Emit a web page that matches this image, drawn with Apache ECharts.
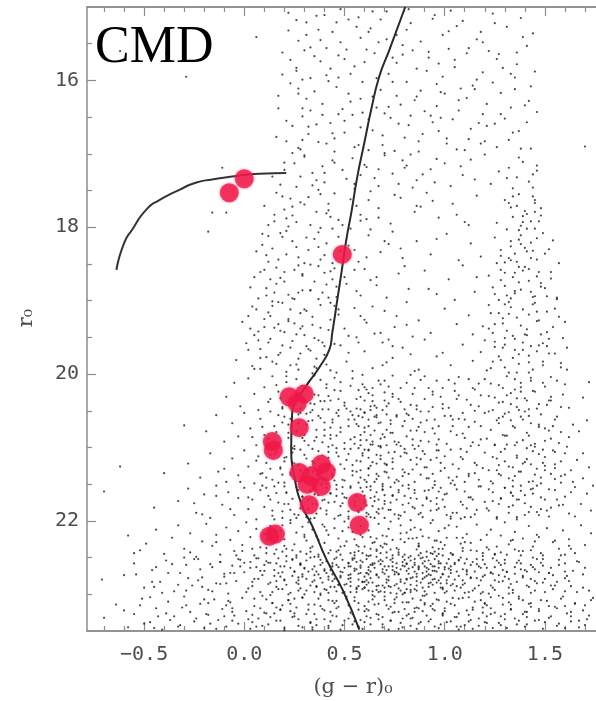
<!DOCTYPE html>
<html>
<head>
<meta charset="utf-8">
<script src="https://cdn.jsdelivr.net/npm/echarts@6/dist/echarts.min.js"></script>
<style>
  html, body { margin: 0; padding: 0; background: #fff; }
  #chart { width: 596px; height: 701px; }
</style>
</head>
<body>
<div id="chart"></div>
<script>
// Colour (g - r)_0 and magnitude r_0 of field stars, by magnitude range.
const fieldStarsBright = [
  [.22,15.08],[.31,15.21],[.36,15.12],[.44,15.34],[.52,15.17],[.58,15.42],[.63,15.29],[.71,15.06],[.76,15.38],[.83,15.22],[.88,15.47],[.95,15.11],[1.02,15.33],[1.09,15.19],[1.16,15.44],[1.24,15.09],[1.31,15.27],[1.38,15.15],[.27,15.46],[.48,15.03],[.67,15.48],[1.44,15.36],[.06,15.41],[-.62,15.60],
  [.19,15.62],[.26,15.87],[.33,15.55],[.38,15.74],[.41,15.93],[.47,15.66],[.55,15.81],[.61,15.58],[.66,15.97],[.74,15.69],[.79,15.52],[.86,15.84],[.92,15.61],[.99,15.95],[1.05,15.72],[1.12,15.56],[1.19,15.89],[1.27,15.64],[1.33,15.91],[1.41,15.53],[.29,15.99],[.51,15.58],[.97,15.77],[1.36,15.78],[.26,15.83],[-.39,15.63],[-.29,15.95],
  [.17,16.21],[.23,16.04],[.29,16.38],[.35,16.15],[.39,16.47],[.46,16.09],[.53,16.29],[.59,16.44],[.68,16.13],[.72,16.36],[.81,16.02],[.85,16.27],[.93,16.48],[1.0,16.18],[1.07,16.41],[1.14,16.07],[1.21,16.32],[1.28,16.46],[1.35,16.12],[1.42,16.28],[.31,16.25],[.49,16.39],[.76,16.21],[1.11,16.24],[1.46,16.43],
  [.16,16.77],[.21,16.55],[.27,16.92],[.32,16.63],[.37,16.84],[.43,16.58],[.45,16.97],[.5,16.71],[.57,16.88],[.62,16.53],[.69,16.75],[.75,16.96],[.82,16.61],[.87,16.83],[.94,16.57],[1.01,16.79],[1.06,16.94],[1.13,16.66],[1.18,16.86],[1.25,16.59],[1.32,16.81],[1.37,16.69],[1.43,16.93],[.24,16.99],[.64,16.68],[.98,16.51],[1.7,16.9],
  [.14,17.31],[.2,17.12],[.26,17.45],[.3,17.04],[.34,17.26],[.4,17.39],[.44,17.09],[.49,17.22],[.55,17.48],[.6,17.15],[.65,17.33],[.7,17.02],[.77,17.41],[.8,17.19],[.89,17.28],[.96,17.07],[1.03,17.44],[1.08,17.17],[1.15,17.35],[1.2,17.01],[1.27,17.24],[1.34,17.47],[1.39,17.11],[1.42,17.38],[1.46,17.23],[.37,17.49],[.58,17.29],[.84,17.46],[1.36,17.32],[1.44,17.46],[-.11,17.19],[.16,17.53]
];
const fieldStarsBright2 = [
  [.57,15.14],[1.21,16.62],[.34,17.43],[.91,15.87],[.42,16.01],[1.37,17.05],[.23,15.72],[.78,16.33],[1.06,15.26],[.61,17.18],[.29,16.49],[1.29,15.83],[.48,15.48],[.86,17.36],[1.15,16.12],[.37,15.31],[.69,16.88],[1.41,16.57],[.2,17.22],[.97,16.69],[.53,15.91],[1.23,17.41],[.32,16.73],[.82,15.03],[1.1,16.95],[.45,17.12],[.65,15.63],[1.33,16.37],[.26,15.18],[.74,17.27],[1.02,15.57],[.39,16.32],[1.18,15.34],[.58,16.64],[.93,17.21],[.17,16.38],[1.45,15.88],[.71,15.44],[.3,17.02],[1.04,16.53],[.51,17.34],[.88,16.14],[1.26,15.71],[.43,15.84],[.64,16.22],[1.13,17.08],[.35,15.67],[.8,16.78],[1.39,15.41],[.55,16.91],[.24,16.62],[.99,15.38],[1.31,17.33],[.47,16.46],[.76,15.76],[1.07,16.27],[.28,17.31],[.62,15.34],[1.2,16.83],[.39,17.17],[.9,16.42],[1.43,16.08],[.52,16.18],[.19,15.92],[.73,16.51],[1.16,15.99],[.41,16.86],[.84,15.59],[1.34,16.71],[.27,16.11],[.67,17.44],[1.01,16.86],[.33,15.97],[.59,16.02],[1.25,15.22],[.46,15.21],[.95,17.39],[.21,16.83],[.79,17.09],[1.11,15.63],[.36,16.6],[.68,15.17],[1.38,16.93],[.54,17.06],[.87,16.97],[.3,15.59],[1.09,17.29],[.44,16.72],[.74,16.02],[1.28,16.17],[.25,17.13],[.6,15.75],[.98,16.16],[1.46,17.16],[.38,15.45],[.81,17.16],[1.19,16.46],[.5,16.55],[.92,15.69],[.18,17.42],[.66,16.37],[1.03,15.05],[.4,17.26],[1.36,15.62],[.56,15.27],[.83,16.48],[.28,16.94],[1.24,16.03],[.7,16.99],[.96,16.35],
  [.31,15.38],[.72,15.91],[1.17,16.58],[.45,16.79],[.94,15.16],[1.32,17.19],[.58,16.25],[.83,17.01],[.27,16.18],[1.05,15.82],[.64,15.06],[1.4,16.34],[.36,17.36],[.77,16.59],[1.19,15.48],[.5,15.71],[.89,16.73],[1.26,16.91],[.22,15.32],[.62,16.95],[1.0,17.13],[.41,15.56],[.81,15.31],[1.35,15.96],[.55,17.41],[.96,16.05],[.33,16.41],[1.12,16.8],[.7,16.45],[1.44,17.28],[.47,15.96],[.86,16.22],[1.22,15.6],[.29,16.81],[.67,17.21],[1.08,16.11],[.4,15.11],[.79,15.65],[1.3,16.52],[.54,16.47]
];

const fieldStarsMid = [
  [-.16,17.8],[-.09,17.8],[-.18,18.06],
  [.1,17.71],[.15,17.92],[.19,17.58],[.24,17.84],[.28,17.66],[.33,17.97],[.38,17.55],[.42,17.77],[.47,17.9],[.53,17.62],[.58,17.83],[.63,17.51],[.67,17.74],[.73,17.95],[.78,17.6],[.85,17.79],[.91,17.53],[.97,17.87],[1.04,17.68],[1.1,17.93],[1.16,17.57],[.22,17.99],[.45,17.54],[.61,17.89],[.88,17.72],
  [1.3,17.63],[1.34,17.86],[1.37,17.55],[1.4,17.78],[1.43,17.92],[1.45,17.67],[1.48,17.84],[1.38,17.98],[1.33,17.73],[1.26,17.94],
  [.06,18.33],[.12,18.12],[.17,18.44],[.21,18.05],[.26,18.27],[.3,18.49],[.35,18.16],[.4,18.38],[.44,18.02],[.52,18.25],[.57,18.47],[.62,18.11],[.68,18.34],[.74,18.06],[.79,18.42],[.86,18.19],[.93,18.37],[1.01,18.09],[1.07,18.45],[1.13,18.22],[.14,18.29],[.37,18.07],[.55,18.31],[.72,18.23],[1.18,18.4],
  [1.25,18.14],[1.28,18.39],[1.31,18.03],[1.33,18.26],[1.36,18.47],[1.38,18.11],[1.41,18.33],[1.43,18.21],[1.46,18.44],[1.49,18.08],[1.52,18.3],[1.35,18.36],[1.45,18.02],[1.3,18.48],
  [.03,18.82],[.08,18.61],[.11,18.93],[.16,18.55],[.2,18.74],[.24,18.97],[.29,18.64],[.33,18.86],[.37,18.53],[.41,18.78],[.46,18.95],[.5,18.68],[.56,18.87],[.6,18.57],[.66,18.79],[.71,18.96],[.77,18.63],[.82,18.84],[.9,18.59],[.96,18.91],[1.02,18.71],[1.09,18.52],[1.15,18.88],[.18,18.69],[.27,18.89],[.43,18.6],[.63,18.72],[1.05,18.99],
  [1.22,18.66],[1.25,18.91],[1.28,18.58],[1.3,18.8],[1.33,18.97],[1.35,18.62],[1.38,18.85],[1.4,18.54],[1.42,18.73],[1.45,18.94],[1.47,18.61],[1.5,18.83],[1.53,18.7],[1.56,18.96],[1.37,18.75],[1.43,18.88],
  [-.01,19.29],[.04,19.08],[.07,19.42],[.12,19.16],[.15,19.37],[.19,19.03],[.22,19.25],[.26,19.46],[.3,19.12],[.34,19.33],[.38,19.06],[.42,19.4],[.47,19.19],[.52,19.48],[.55,19.1],[.61,19.3],[.65,19.45],[.7,19.14],[.75,19.36],[.81,19.02],[.87,19.27],[.93,19.44],[1.0,19.11],[1.06,19.32],[1.12,19.2],[.1,19.25],[.28,19.38],[.45,19.07],[.58,19.21],[.84,19.49],
  [1.19,19.35],[1.22,19.06],[1.24,19.44],[1.27,19.17],[1.29,19.31],[1.32,19.02],[1.34,19.48],[1.36,19.23],[1.39,19.12],[1.41,19.39],[1.44,19.05],[1.46,19.28],[1.48,19.46],[1.51,19.15],[1.54,19.36],[1.57,19.22],[1.31,19.41],[1.42,19.19],
  [-.04,19.81],[.01,19.58],[.05,19.93],[.08,19.66],[.13,19.52],[.16,19.86],[.18,19.71],[.21,19.97],[.24,19.55],[.27,19.79],[.31,19.62],[.35,19.9],[.37,19.54],[.4,19.74],[.43,19.95],[.48,19.61],[.51,19.83],[.56,19.5],[.6,19.69],[.64,19.92],[.69,19.57],[.74,19.78],[.79,19.64],[.85,19.96],[.9,19.53],[.96,19.76],[1.03,19.88],[1.09,19.6],[1.14,19.82],[.11,19.77],[.23,19.88],[.33,19.68],[.46,19.98],[.71,19.84],
  [1.18,19.7],[1.2,19.54],[1.23,19.92],[1.25,19.63],[1.28,19.81],[1.3,19.51],[1.32,19.98],[1.35,19.67],[1.37,19.86],[1.39,19.57],[1.42,19.75],[1.44,19.94],[1.47,19.61],[1.49,19.83],[1.52,19.52],[1.55,19.72],[1.58,19.91],[1.61,19.64],[1.34,19.78],[1.46,19.69]
];
const fieldStarsMid2 = [
  [.23,17.61],[.44,18.71],[.12,19.57],[.67,17.87],[.31,19.14],[.09,18.24],[.52,19.71],[.78,18.29],[.36,17.79],[.17,19.02],[.61,18.41],[.27,19.94],[.47,18.13],[.05,19.47],[.72,19.53],[.39,18.89],[.21,18.37],[.56,17.71],[.14,19.83],[.33,18.51],[.83,19.73],[.43,19.26],[.26,17.93],[.64,19.08],[.11,18.83],[.49,17.97],[.29,18.66],[.94,17.64],[.19,19.61],[.41,19.87],[.58,18.93],[.07,18.97],[.35,19.51],[.75,17.56],[.24,18.19],[.53,18.02],[.16,18.77],[.45,19.59],[1.06,17.83],[.32,18.31],[.69,19.88],[.13,19.21],[.5,19.38],[.28,19.72],[.87,19.94],[.38,18.44],[.02,19.67],[.62,17.63],[.22,18.92],[.46,18.81],[.8,18.53],[.34,19.99],[.1,18.58],[.57,19.57],[.25,19.31],[1.12,17.97],[.42,17.68],[.18,18.08],[.66,18.68],[.3,19.47],[.06,19.12],[.99,19.71],[.48,18.32],[.2,19.43],[.76,19.21],[.37,18.98],[.54,19.96],[.15,17.83],[.7,18.19],[.4,19.62],[.27,18.41],[.92,18.84],[.08,19.93],[.6,19.26],[.32,17.59],[.45,18.56],[.17,19.32],[1.16,18.68],[.36,19.79],[.63,18.03],[.23,19.12],[.86,17.71],[.51,18.77],[.12,18.47],[.74,19.62],[.41,18.22],[.03,19.38],[.58,17.91],[.29,18.86],[1.14,19.46],[.47,19.12],[.2,17.76],[.68,19.44],[.38,19.37],[.14,19.01],[.55,18.58],[.96,18.16],[.25,18.58],[.43,17.86],[.81,19.33],
  [.19,18.13],[.34,19.22],[.08,19.78],[.27,18.52],[.41,17.81],[.14,19.07],[.23,19.64],[.37,18.27],[.05,18.68],[.3,17.69],[.18,19.41],[.43,19.03],[.11,18.38],[.26,19.87],[.35,18.74],[.02,19.21],[.21,17.88],[.39,19.57],[.15,18.89],[.31,18.14],[.07,19.54],[.25,18.98],[.44,18.49],[.12,17.97],[.29,19.35],[.2,18.61],[.36,19.92],[.09,18.09],[.33,18.86],[.17,19.74],[.4,18.62],[.24,17.72],[.04,19.89],[.28,19.17],[.13,18.71],[.38,18.01],[.22,19.28],[.32,19.66],[.1,19.36],[.42,18.96],
  [1.36,17.71],[1.42,18.57],[1.29,19.24],[1.47,17.92],[1.33,18.19],[1.51,19.43],[1.24,18.82],[1.39,19.67],[1.44,17.58],[1.31,18.93],[1.55,19.11],[1.27,19.76],[1.4,18.28],[1.48,18.76],[1.35,19.52],[1.58,19.85],[1.22,19.38],[1.45,19.03],[1.37,18.04],[1.53,18.61],[1.3,19.91],[1.41,17.82],[1.26,18.49],[1.49,19.58],[1.34,18.68],[1.6,19.29],[1.43,18.42],[1.32,17.67],[1.56,18.98],[1.38,19.34],[1.21,19.95],[1.46,18.15],[1.35,18.87],[1.52,19.72],[1.28,18.31],[1.42,19.84],[1.39,17.93],[1.25,19.56],[1.5,18.36],[1.33,19.09],[1.47,19.27],[1.37,18.54],[1.59,19.51],[1.23,19.17],[1.44,18.95],[1.3,18.62],[1.54,18.18],[1.4,19.46],[1.36,19.98],[1.48,17.74],[1.27,18.99],[1.61,19.94],[1.43,19.62],[1.32,18.42],[1.45,17.63],[1.57,18.49],[1.29,19.64],[1.38,18.23],[1.51,18.94],[1.24,19.83],
  [1.34,17.58],[1.41,18.02],[1.28,18.72],[1.46,19.15],[1.37,19.73],[1.39,17.85],[1.33,18.45],[1.48,18.81],[1.25,19.32],[1.42,19.98],[1.44,18.32],[1.3,19.05],[1.51,19.62],[1.35,18.9],[1.41,19.47],[1.45,17.79],[1.39,18.59],[1.32,19.18],[1.49,19.88],[1.37,18.17],[1.46,18.67],[1.3,19.6]
];

const fieldStarsFaint = [
  [-.09,20.31],[-.05,20.12],[-.02,20.44],[.02,20.06],[.05,20.27],[.07,20.49],[.1,20.18],[.12,20.38],[.14,20.03],[.17,20.24],[.19,20.45],[.21,20.11],[.23,20.33],[.26,20.07],[.28,20.47],[.31,20.2],[.33,20.4],[.35,20.02],[.37,20.29],[.39,20.48],[.41,20.14],[.43,20.36],[.45,20.05],[.48,20.23],[.5,20.43],[.53,20.16],[.56,20.34],[.59,20.01],[.62,20.26],[.66,20.46],[.7,20.09],[.74,20.31],[.78,20.19],[.83,20.42],[.88,20.08],[.94,20.28],[.99,20.47],[1.05,20.13],[1.11,20.35],[.16,20.15],[.32,20.11],[.4,20.37],[.47,20.49],[.54,20.06],[.64,20.19],
  [1.15,20.21],[1.17,20.44],[1.2,20.07],[1.22,20.3],[1.24,20.49],[1.27,20.15],[1.29,20.38],[1.31,20.03],[1.33,20.26],[1.36,20.45],[1.38,20.12],[1.4,20.33],[1.43,20.05],[1.45,20.24],[1.47,20.41],[1.5,20.17],[1.53,20.36],[1.56,20.09],[1.59,20.28],[1.62,20.46],[1.35,20.21],[1.42,20.48],[1.69,20.32],[1.72,20.11],
  [-.19,20.78],[-.14,20.56],[-.1,20.92],[-.06,20.67],[-.03,20.85],[.0,20.53],[.03,20.74],[.06,20.97],[.08,20.61],[.1,20.83],[.13,20.51],[.15,20.71],[.17,20.94],[.2,20.58],[.22,20.8],[.24,20.64],[.25,20.98],[.27,20.55],[.29,20.87],[.31,20.69],[.33,20.52],[.35,20.91],[.36,20.76],[.38,20.6],[.4,20.84],[.42,20.99],[.44,20.66],[.46,20.53],[.48,20.79],[.5,20.94],[.52,20.62],[.55,20.86],[.57,20.57],[.6,20.73],[.63,20.96],[.66,20.59],[.69,20.82],[.73,20.68],[.77,20.93],[.81,20.54],[.86,20.77],[.91,20.63],[.97,20.89],[1.03,20.57],[1.09,20.81],[1.13,20.98],[.12,20.88],[.34,20.63],[.43,20.83],[.53,20.51],[.58,20.9],[.71,20.55],[.84,20.97],[-.3,20.7],[.19,20.66],
  [1.15,20.65],[1.18,20.89],[1.2,20.53],[1.23,20.76],[1.25,20.97],[1.27,20.6],[1.3,20.84],[1.32,20.52],[1.34,20.71],[1.36,20.93],[1.38,20.58],[1.41,20.8],[1.43,20.67],[1.45,20.95],[1.48,20.55],[1.5,20.74],[1.53,20.88],[1.55,20.62],[1.58,20.79],[1.61,20.99],[1.64,20.69],[1.39,20.9],[1.33,20.63],[1.47,20.72],
  [-.28,21.22],[-.22,21.41],[-.17,21.08],[-.13,21.33],[-.09,21.47],[-.06,21.15],[-.03,21.38],[.0,21.04],[.02,21.26],[.05,21.49],[.07,21.12],[.09,21.35],[.11,21.21],[.14,21.44],[.16,21.06],[.18,21.29],[.2,21.48],[.21,21.13],[.23,21.37],[.25,21.02],[.27,21.24],[.28,21.46],[.3,21.1],[.32,21.31],[.34,21.19],[.35,21.43],[.37,21.05],[.39,21.27],[.41,21.49],[.42,21.14],[.44,21.36],[.46,21.01],[.48,21.23],[.5,21.45],[.52,21.09],[.54,21.32],[.56,21.18],[.58,21.41],[.6,21.03],[.63,21.25],[.65,21.47],[.68,21.11],[.71,21.34],[.74,21.2],[.77,21.46],[.8,21.07],[.84,21.3],[.88,21.16],[.92,21.42],[.96,21.04],[1.0,21.28],[1.04,21.45],[1.08,21.13],[1.12,21.36],[.13,21.1],[.24,21.2],[.31,21.48],[.45,21.3],[.53,21.02],[.62,21.38],[.7,21.22],[.79,21.39],[.9,21.27],[-.62,21.26],[-.4,21.35],
  [1.15,21.21],[1.17,21.44],[1.2,21.07],[1.22,21.31],[1.24,21.49],[1.26,21.15],[1.28,21.38],[1.3,21.02],[1.32,21.26],[1.34,21.45],[1.36,21.11],[1.38,21.33],[1.4,21.2],[1.42,21.47],[1.44,21.05],[1.46,21.29],[1.48,21.41],[1.5,21.13],[1.53,21.36],[1.55,21.23],[1.58,21.48],[1.6,21.08],[1.63,21.31],[1.66,21.17],[1.69,21.42],[1.72,21.27],[1.35,21.39],[1.41,21.16],[1.27,21.24],[1.49,21.03],
  [-.33,21.73],[-.28,21.56],[-.24,21.89],[-.2,21.64],[-.17,21.96],[-.14,21.52],[-.11,21.78],[-.08,21.61],[-.05,21.92],[-.03,21.69],[.0,21.55],[.02,21.84],[.04,21.71],[.06,21.98],[.08,21.58],[.1,21.81],[.12,21.66],[.14,21.93],[.15,21.53],[.17,21.75],[.19,21.87],[.21,21.62],[.23,21.99],[.24,21.7],[.26,21.54],[.28,21.83],[.29,21.67],[.31,21.95],[.33,21.59],[.34,21.77],[.36,21.9],[.38,21.51],[.39,21.72],[.41,21.86],[.43,21.63],[.45,21.97],[.46,21.57],[.48,21.8],[.5,21.68],[.52,21.94],[.53,21.55],[.55,21.74],[.57,21.88],[.59,21.6],[.61,21.79],[.63,21.53],[.65,21.96],[.67,21.71],[.69,21.58],[.72,21.85],[.74,21.65],[.77,21.92],[.79,21.52],[.82,21.76],[.85,21.62],[.88,21.89],[.91,21.7],[.94,21.55],[.97,21.83],[1.0,21.64],[1.03,21.97],[1.06,21.57],[1.09,21.78],[1.12,21.68],[1.15,21.91],[1.18,21.53],[1.2,21.74],[1.22,21.86],[1.24,21.61],[1.26,21.95],[1.28,21.69],[1.3,21.55],[1.32,21.81],[1.34,21.66],[1.36,21.98],[1.38,21.59],[1.4,21.76],[1.42,21.88],[1.44,21.63],[1.46,21.52],[1.48,21.84],[1.5,21.71],[1.52,21.94],[1.55,21.58],[1.57,21.79],[1.6,21.67],[1.62,21.9],[1.65,21.54],[1.68,21.77],[1.71,21.63],[1.73,21.86],[.09,21.52],[.2,21.77],[.27,21.92],[.35,21.64],[.42,21.75],[.49,21.54],[.56,21.66],[.62,21.91],[.7,21.77],[.83,21.99],[.96,21.69],[1.1,21.95],[1.27,21.77],[1.37,21.71],[1.43,21.57],[1.53,21.82],[-.45,21.82],[-.7,21.6]
];
const fieldStarsFaint2 = [
  [.31,20.54],[.47,21.12],[.22,21.77],[.58,20.31],[.36,21.58],[.15,20.92],[.63,21.69],[.41,20.19],[.28,21.03],[.52,21.87],[.19,20.47],[.7,20.86],[.34,21.33],[.56,20.68],[.25,21.91],[.44,20.97],[.11,21.41],[.66,21.22],[.38,20.08],[.49,21.63],[.2,21.19],[.6,20.52],[.32,21.84],[.75,21.48],[.43,20.73],[.27,20.26],[.54,21.38],[.16,21.62],[.68,20.14],[.37,21.16],[.5,20.39],[.23,20.61],[.61,21.94],[.46,21.51],[.3,20.83],[.72,21.07],[.4,21.71],[.13,20.34],[.57,21.01],[.26,21.46],[.65,20.77],[.35,20.41],[.48,21.92],[.18,21.27],[.59,20.59],[.29,21.67],[.8,20.64],[.42,21.25],[.21,20.03],[.53,20.89],[.33,21.97],[.69,21.57],[.45,20.22],[.24,21.07],[.62,21.29],[.39,20.93],[.09,20.72],[.55,21.79],[.3,21.41],[.74,20.27],[.47,20.57],[.2,21.53],[.64,20.96],[.36,21.77],[.51,21.17],[.14,21.86],[.83,21.17],[.42,20.48],[.26,20.78],[.58,21.55],[.34,21.02],[.67,21.84],[.44,21.39],[.17,20.56],[.52,20.71],[.28,21.31],[.77,21.61],[.39,21.49],[.06,21.18],[.6,20.18],[.32,20.64],[.49,21.44],[.23,21.34],[.71,20.44],[.41,21.91],[.12,20.99],[.56,20.47],[.35,20.28],[.66,21.43],[.27,21.58],[.46,20.84],[.19,21.96],[.62,20.71],[.31,21.15],[.85,21.83],[.43,21.62],[.24,20.42],[.54,21.24],[.37,20.57],[.7,21.73],[.48,20.11],[.15,21.09],[.59,21.11],[.33,21.59],[.8,21.34],[.45,21.74],[.22,20.87],[.64,20.37],[.29,20.16],[.51,21.69],[.04,20.86],[.68,20.98],[.4,20.66],[.57,21.86],[.25,21.22],[.88,20.91],[.36,21.37],[.13,21.71],[.61,21.47],[.47,20.34],[.3,21.88],[.73,20.8],[.42,21.06],[.18,20.33],[.55,20.95],[.34,20.49],[.92,21.58],[.5,21.29],[.21,21.61],[.66,21.1],[.38,21.83],[.27,20.67],[.6,21.66],[.44,20.62],[.08,21.36],[.53,21.53],[.32,20.97],[.78,20.98],[.41,21.55],[.16,20.79],[.63,20.49],[.35,21.21],[.48,20.73],[.23,21.85],[.7,21.33],[.98,21.21],[.46,21.07],[.29,21.42],[.57,20.22],[.2,21.14],[.67,21.9],[.38,20.37],[.52,21.97],[.11,21.55],[.74,21.66],[.43,20.88],[.26,21.96],[.58,20.83],[.33,21.27],[.86,20.48],[.49,21.76],[.19,21.37],[.62,21.03],[.37,21.65],[.02,21.68],[.55,20.62],[.31,20.38],[.71,21.24],[1.04,21.89],[.45,21.45],[.24,21.01],[.65,20.58],[.4,21.43],[-.07,21.84],[.5,21.02],[.28,20.53],[.6,21.75],[.94,20.74],[.36,20.86],[.13,21.29],[.69,21.53],[.47,21.93],[.22,20.69],[.56,21.33],[1.1,20.62],[.32,21.71],[.82,21.56],[-.14,21.66],[.42,20.3],[.17,21.48],[.64,21.8],[.39,21.11],[-.21,21.91],[.54,20.56],[1.02,21.41],[.3,20.91],[.76,20.56],[.46,21.66],[-.1,21.29],[.25,20.36],[.61,20.9],[.35,21.96],[.9,21.09],[.51,20.47],[-.02,21.47],[.15,21.98],[.68,20.66],[1.07,20.29],[.4,20.76],[.96,21.77],[-.25,21.76],[.58,21.19],
  [1.33,20.41],[1.47,21.09],[1.24,21.73],[1.56,20.58],[1.38,21.52],[1.29,20.19],[1.51,21.86],[1.42,20.84],[1.19,21.28],[1.63,21.61],[1.35,20.07],[1.45,21.37],[1.27,20.67],[1.58,21.19],[1.4,21.92],[1.31,20.96],[1.53,20.31],[1.22,20.51],[1.48,21.68],[1.36,21.14],[1.67,20.78],[1.44,20.23],[1.3,21.55],[1.55,21.43],[1.39,20.62],[1.26,21.97],[1.5,20.91],[1.34,21.79],[1.6,20.14],[1.43,21.23],[1.21,20.88],[1.46,20.47],[1.37,21.33],[1.28,21.06],[1.52,21.57],[1.41,20.36],[1.32,21.89],[1.57,20.94],[1.25,20.32],[1.49,21.21],[1.35,20.73],[1.64,21.47],[1.43,21.81],[1.3,20.54],[1.54,21.04],[1.38,20.18],[1.23,21.46],[1.47,20.69],[1.33,21.62],[1.59,21.78],[1.41,21.01],[1.27,21.36],[1.51,20.42],[1.36,21.95],[1.45,20.99],[1.18,20.71],[1.62,20.86],[1.34,21.27],[1.48,21.49],[1.29,20.83],[1.53,20.04],[1.4,21.65],[1.24,21.13],[1.56,21.71],[1.37,20.49],[1.44,21.56],[1.31,20.29],[1.69,21.08],[1.5,21.31],[1.35,20.97],[1.26,20.63],[1.46,21.88],[1.39,21.22],[1.58,20.45],[1.32,21.42],[1.21,21.83],[1.52,20.77],[1.42,20.57],[1.28,21.7],[1.65,21.94],[1.36,20.33],[1.49,20.12],[1.74,21.52],[1.3,21.19],[1.55,21.28],[1.43,20.09],[1.34,21.53],[1.71,20.63],[1.6,21.37],[1.25,20.96],
  [1.52,20.36],[1.31,20.84],[1.44,21.46],[1.29,20.58],[1.55,21.06],[1.36,21.71],[1.38,20.24],[1.26,21.31],[1.47,21.92],[1.23,20.13],[1.54,20.71],[1.33,21.61],[1.27,20.39],[1.43,20.97],[1.58,21.39],[1.4,20.51],[1.5,21.25],[1.22,21.57]
];
// Field stars redward of the turn-off.
const fieldStarsFaint3 = [
  [.63,20.83],[.91,21.42],[1.07,20.61],[.77,21.97],[.58,21.31],[.84,20.27],[1.13,21.68],[.69,20.49],[.96,21.14],[.61,21.89],[1.02,20.08],[.8,21.02],[.66,21.61],[.88,20.66],[1.16,21.24],[.72,20.17],[.93,21.86],[.57,20.71],[1.05,21.51],[.75,20.92],[.86,21.23],[.64,20.29],[1.1,20.87],[.79,21.78],[.99,20.41],[.68,21.16],[.9,20.03],[1.08,21.97],[.6,21.44],[.82,20.56],[.97,21.6],[.74,21.29],[1.14,20.19],[.67,20.67],[.87,21.91],[1.03,21.03],[.59,20.14],[.78,20.38],[.95,20.81],[1.12,21.39],[.7,21.96],[.85,21.47],[1.0,21.81],[.62,21.04],[.81,20.12],[1.06,20.34],[.73,21.54],[.92,20.51],[.65,20.43],[1.17,20.97],[.83,21.69],[.98,21.32],[.71,20.76],[1.04,20.71],[.6,21.72],[.89,21.05],[1.11,21.83],[.76,20.58],[.94,20.24],[.66,21.36],[1.09,21.16],[.8,21.88],[.58,20.97],[1.01,21.63],[.86,20.43],[.69,21.83],[1.15,20.5],[.74,20.02],[.96,20.96],[.63,21.58],[.88,21.37],[1.06,20.83],[.78,21.12],[.6,20.36],[.93,21.73],[1.12,20.07],[.72,21.41],[.99,20.19],[.84,20.89],[.67,20.98],[1.03,21.94],[.79,20.71],[.91,21.27],[1.17,21.53],[.62,20.62],[.85,21.58],[.7,20.25],[1.07,21.29],[.95,21.46],[.76,21.71],[.64,21.2],[1.13,20.42],[.82,21.36],[1.0,20.57],[.68,20.88],[.9,20.34],[.57,21.48],[1.08,21.74],[.75,21.06],[.94,21.99],[.61,20.21],[.87,20.72],[1.05,20.23],[.73,21.85],[.97,21.04],[.83,20.01],[.65,21.73],[1.1,21.47],[.8,20.48],[.92,20.92],[1.16,21.85],[.71,21.23],[.98,21.55],[.59,21.08],[.86,21.14],[1.02,20.46],[.77,20.34],[.63,21.95],[.89,21.79],[1.14,20.93],[.74,20.8],[.95,20.62],[.67,20.09],[1.04,21.23],[.82,21.51],[.6,20.53],[.9,21.59],[1.09,20.53],[.69,21.5],[.96,20.09],[.78,21.93],[1.18,20.29],[.85,20.19],[.62,21.28],[1.01,21.92],[.73,20.63],[.93,21.17],[.66,20.56],[1.11,21.06],[.81,20.85],[.99,21.71],[.7,21.65],[.87,20.98],[1.06,21.4],[.58,21.83],[.76,21.44],[.94,20.45],[1.13,21.95],[.64,20.92],[.84,21.81],[1.03,20.78],[.72,20.4],[.91,21.68],[.61,21.54],[1.07,20.04],[.79,21.3],[.97,20.71],[.68,21.0],[1.15,21.35],[.88,20.51],[.75,21.91],[1.0,21.12],[.63,20.44],[.92,20.19],[1.1,21.6],[.8,21.66],[.67,21.39],[.96,21.85],[.85,21.02],[1.04,20.62],[.71,20.97],[.6,20.79],[.89,21.95],[1.12,20.72],[.77,21.58],[.98,20.31],[.65,21.67],[.83,20.77],[1.06,21.89],[.74,21.15],[.94,21.36],[.58,20.48],[1.01,20.95],[.86,21.7],[.7,20.36],[1.17,20.13],[.81,21.08],[.62,21.14],[.95,21.51],[1.08,21.02],[.76,20.96],[.9,20.79],[.66,21.88],[1.03,21.49],[.84,20.61],[.73,21.75],[1.14,21.71]
];

const fieldStarsFaintest = [
  [-.49,22.31],[-.44,22.12],[-.4,22.45],[-.36,22.23],[-.33,22.06],[-.3,22.38],[-.27,22.17],[-.24,22.49],[-.21,22.28],[-.19,22.04],[-.16,22.34],[-.14,22.19],[-.12,22.46],[-.09,22.09],[-.07,22.26],[-.05,22.41],[-.03,22.14],[-.01,22.33],[.01,22.02],[.03,22.22],[.05,22.47],[.06,22.11],[.08,22.36],[.1,22.18],[.11,22.44],[.13,22.07],[.15,22.29],[.16,22.39],[.18,22.13],[.2,22.25],[.21,22.48],[.23,22.03],[.25,22.32],[.26,22.16],[.28,22.42],[.29,22.08],[.31,22.27],[.33,22.37],[.34,22.12],[.36,22.21],[.37,22.46],[.39,22.05],[.4,22.3],[.42,22.19],[.43,22.4],[.45,22.1],[.47,22.24],[.48,22.35],[.5,22.01],[.51,22.28],[.53,22.44],[.54,22.15],[.56,22.33],[.58,22.07],[.59,22.22],[.61,22.47],[.62,22.13],[.64,22.3],[.66,22.39],[.67,22.04],[.69,22.2],[.71,22.43],[.72,22.11],[.74,22.26],[.76,22.37],[.78,22.06],[.8,22.29],[.81,22.16],[.83,22.48],[.85,22.09],[.87,22.34],[.89,22.21],[.91,22.42],[.93,22.03],[.95,22.27],[.97,22.14],[.99,22.38],[1.01,22.23],[1.04,22.46],[1.06,22.08],[1.08,22.31],[1.11,22.18],[1.13,22.4],[1.16,22.05],[1.18,22.26],[1.21,22.36],[1.23,22.12],[1.25,22.45],[1.28,22.2],[1.3,22.02],[1.32,22.32],[1.35,22.15],[1.37,22.41],[1.39,22.24],[1.42,22.07],[1.44,22.35],[1.46,22.19],[1.49,22.47],[1.51,22.1],[1.54,22.29],[1.57,22.38],[1.59,22.13],[1.62,22.25],[1.65,22.44],[1.68,22.06],[1.7,22.33],[1.73,22.17],[.04,22.38],[.12,22.23],[.19,22.06],[.24,22.4],[.3,22.19],[.35,22.49],[.41,22.13],[.46,22.42],[.52,22.09],[.57,22.41],[.63,22.22],[.68,22.34],[.73,22.01],[.77,22.46],[.82,22.24],[.88,22.12],[.94,22.45],[1.0,22.1],[1.09,22.23],[1.19,22.44],[1.33,22.27],[1.47,22.22],[1.6,22.46],[-.58,22.2],[-.52,22.4],[.32,22.02],[.55,22.25],[.7,22.31],[.86,22.23],[.98,22.29],
  [-.6,22.74],[-.55,22.58],[-.5,22.91],[-.46,22.67],[-.42,22.83],[-.39,22.54],[-.35,22.96],[-.32,22.71],[-.29,22.6],[-.26,22.88],[-.23,22.52],[-.21,22.77],[-.18,22.94],[-.16,22.63],[-.14,22.85],[-.12,22.56],[-.1,22.72],[-.08,22.99],[-.06,22.61],[-.04,22.82],[-.02,22.53],[.0,22.7],[.02,22.92],[.03,22.64],[.05,22.79],[.07,22.51],[.08,22.97],[.1,22.68],[.12,22.86],[.13,22.57],[.15,22.75],[.17,22.93],[.18,22.62],[.2,22.81],[.21,22.55],[.23,22.98],[.25,22.69],[.26,22.84],[.28,22.59],[.29,22.76],[.31,22.95],[.33,22.5],[.34,22.66],[.36,22.89],[.37,22.73],[.39,22.57],[.41,22.94],[.42,22.8],[.44,22.62],[.45,22.52],[.47,22.87],[.49,22.7],[.5,22.97],[.52,22.58],[.53,22.78],[.55,22.65],[.56,22.91],[.58,22.54],[.6,22.83],[.61,22.71],[.63,22.6],[.64,22.96],[.66,22.74],[.68,22.53],[.69,22.88],[.71,22.67],[.72,22.81],[.74,22.56],[.76,22.99],[.77,22.72],[.79,22.61],[.8,22.85],[.82,22.5],[.84,22.77],[.85,22.93],[.87,22.64],[.89,22.79],[.9,22.55],[.92,22.9],[.94,22.68],[.96,22.84],[.97,22.58],[.99,22.73],[1.01,22.96],[1.03,22.62],[1.05,22.8],[1.07,22.53],[1.09,22.87],[1.11,22.69],[1.14,22.95],[1.16,22.59],[1.19,22.76],[1.21,22.64],[1.24,22.91],[1.26,22.54],[1.29,22.82],[1.31,22.7],[1.34,22.98],[1.36,22.57],[1.39,22.75],[1.41,22.88],[1.44,22.63],[1.46,22.52],[1.49,22.84],[1.52,22.71],[1.54,22.93],[1.57,22.6],[1.6,22.78],[1.63,22.89],[1.66,22.55],[1.69,22.73],[1.72,22.95],[.06,22.63],[.11,22.55],[.16,22.82],[.19,22.7],[.24,22.52],[.27,22.95],[.3,22.64],[.35,22.81],[.38,22.99],[.4,22.68],[.43,22.9],[.46,22.6],[.48,22.77],[.51,22.86],[.54,22.53],[.57,22.72],[.59,22.93],[.62,22.84],[.65,22.58],[.67,22.97],[.7,22.62],[.73,22.9],[.75,22.69],[.78,22.8],[.81,22.58],[.83,22.97],[.86,22.72],[.88,22.51],[.91,22.75],[.93,22.84],[.95,22.62],[.98,22.91],[1.0,22.66],[1.02,22.52],[1.06,22.89],[1.1,22.58],[1.13,22.78],[1.18,22.99],[1.23,22.71],[1.28,22.6],[1.33,22.86],[1.38,22.66],[1.43,22.79],[1.48,22.57],[1.56,22.83],[1.64,22.68],[-.71,22.8],[-.45,22.9],[-.28,22.78],[-.09,22.85],[.0,22.57],
  [-.7,23.32],[-.64,23.14],[-.58,23.45],[-.55,23.27],[-.51,23.06],[-.47,23.38],[-.44,23.19],[-.41,23.48],[-.38,23.1],[-.35,23.3],[-.32,23.42],[-.3,23.03],[-.27,23.24],[-.25,23.37],[-.22,23.13],[-.2,23.46],[-.18,23.28],[-.15,23.07],[-.13,23.35],[-.11,23.2],[-.09,23.44],[-.07,23.11],[-.05,23.29],[-.03,23.4],[-.01,23.05],[.01,23.23],[.03,23.47],[.05,23.16],[.07,23.33],[.09,23.02],[.11,23.26],[.12,23.41],[.14,23.12],[.16,23.36],[.18,23.21],[.2,23.49],[.22,23.08],[.24,23.31],[.26,23.18],[.27,23.43],[.29,23.04],[.31,23.27],[.33,23.39],[.35,23.14],[.36,23.34],[.38,23.01],[.4,23.22],[.42,23.46],[.44,23.09],[.46,23.3],[.47,23.17],[.49,23.42],[.51,23.06],[.53,23.25],[.55,23.37],[.57,23.12],[.59,23.47],[.61,23.2],[.63,23.32],[.65,23.03],[.67,23.28],[.69,23.41],[.71,23.15],[.73,23.36],[.75,23.07],[.77,23.24],[.79,23.45],[.81,23.11],[.83,23.33],[.85,23.19],[.87,23.4],[.89,23.02],[.91,23.29],[.93,23.16],[.95,23.44],[.97,23.08],[.99,23.26],[1.01,23.38],[1.03,23.13],[1.05,23.31],[1.07,23.48],[1.09,23.05],[1.11,23.22],[1.13,23.35],[1.15,23.1],[1.17,23.43],[1.19,23.18],[1.21,23.3],[1.23,23.04],[1.25,23.25],[1.27,23.39],[1.29,23.14],[1.31,23.46],[1.33,23.21],[1.35,23.33],[1.37,23.06],[1.39,23.27],[1.41,23.41],[1.43,23.12],[1.45,23.36],[1.47,23.2],[1.49,23.47],[1.51,23.09],[1.53,23.3],[1.55,23.17],[1.57,23.4],[1.59,23.03],[1.61,23.26],[1.63,23.37],[1.65,23.13],[1.67,23.45],[1.69,23.22],[1.71,23.34],[1.73,23.08],[-.6,23.22],[-.43,23.3],[-.29,23.15],[-.17,23.4],[-.06,23.19],[.04,23.38],[.15,23.26],[.25,23.06],[.34,23.45],[.43,23.24],[.52,23.33],[.62,23.1],[.72,23.48],[.82,23.27],[.92,23.37],[1.0,23.19],[1.1,23.42],[1.2,23.13],[1.3,23.34],[1.4,23.24],[1.5,23.38],[1.6,23.16],[1.7,23.42]
];
const fieldStarsFaintest2 = [
  [.47,22.63],[.82,23.11],[.21,22.38],[.66,22.94],[1.03,22.71],[.35,23.27],[-.12,22.86],[.58,22.19],[.91,22.49],[.27,22.77],[1.27,23.02],[.73,23.36],[.4,22.08],[-.31,23.18],[1.49,22.61],[.53,22.89],[.14,23.12],[.87,22.31],[1.12,22.97],[.31,22.54],[.62,23.22],[-.04,22.47],[.98,23.41],[.44,22.73],[1.62,22.82],[.76,22.58],[.19,22.93],[1.35,22.39],[.55,23.09],[-.22,22.66],[.83,22.87],[.37,22.26],[1.07,23.26],[.68,22.44],[.08,22.68],[1.42,23.13],[.5,22.34],[.94,22.62],[.25,23.3],[-.47,23.04],[.79,23.0],[1.19,22.53],[.42,22.98],[.63,22.69],[.02,23.34],[1.55,22.27],[.86,23.18],[.33,22.42],[1.01,22.81],[.57,23.44],[-.16,22.96],[.71,22.21],[.16,22.58],[1.3,22.76],[.46,23.19],[.9,22.96],[.29,23.05],[1.72,23.29],[.61,22.52],[-.36,22.59],[1.09,22.41],[.39,22.84],[.81,22.68],[.11,22.26],[1.45,22.95],[.52,22.79],[.96,23.07],[.23,22.64],[.74,23.25],[-.08,23.09],[1.23,22.88],[.6,22.35],[.35,22.97],[1.05,22.59],[.67,23.13],[-.54,22.73],[.88,22.44],[.18,23.21],[1.38,22.58],[.48,22.46],[.78,22.83],[.04,22.89],[1.14,23.18],[.56,22.66],[.3,22.22],[.93,22.74],[1.58,23.06],[.43,23.37],[-.27,22.43],[.7,22.91],[1.0,22.33],[.2,22.8],[.84,23.32],[.38,22.6],[1.26,22.35],[.64,23.01],[-.02,22.62],[.99,22.91],[.49,22.14],[.13,23.01],[1.67,22.56],[.77,22.39],[.32,23.14],[1.11,22.67],[.59,22.83],[-.19,23.27],[.89,23.23],[.26,22.47],[1.33,23.2],[.45,22.9],[.72,22.62],[.06,22.51],[1.2,23.38],[.54,23.27],[.97,22.55],[.36,22.69],[-.41,22.98],[.8,22.98],[1.48,22.44],[.65,22.29],[.17,22.71],[1.04,23.05],[.41,22.55],[.85,22.52],[.28,22.92],[1.6,22.69],[.69,23.31],[-.1,22.76],[.92,22.23],[.51,23.03],[.1,23.25],[1.16,22.78],[.34,22.35],[.75,22.73],[1.4,23.44],[.58,22.61],[-.33,22.87],[1.08,22.5],[.22,23.08],[.63,22.47],[.86,22.95],[.44,22.82],[1.29,22.67],[.01,22.97],[.73,23.17],[.39,23.2],[.95,22.42],[1.52,23.16],[.24,22.53],[.6,22.91],[-.06,23.36],[1.02,22.65],[.47,22.4],[.81,22.59],[.15,22.45],[1.22,22.99],[.53,22.73],[.9,23.12],[.3,22.65],[1.65,23.12],[.67,22.55],[-.25,22.52],[1.13,22.3],[.42,23.08],[.78,22.25],[.07,22.79],[1.36,22.83],[.56,22.97],[.98,22.77],[.33,23.38],[.71,22.8],[-.14,22.29],[1.18,23.08],[.49,22.53],[.87,22.66],[.19,23.15],[1.44,22.5],[.62,22.73],[1.06,23.31],[.37,22.49],[.76,23.04],[-.5,23.4],[.94,22.36],[.27,22.86],[1.31,22.46],[.55,22.43],[.83,22.78],[.12,22.57],[1.7,22.64],[.43,22.67],[.69,22.36],[1.0,23.23],[-.37,23.35],[.3,23.0],[1.25,22.63],[.6,23.16],[.89,22.58],[.05,23.06],[1.53,22.88],[.46,22.96],[.74,22.47],[.2,22.34],[1.1,22.85],[.65,22.64],[-.2,23.07],[.92,22.85],[.38,22.78],[1.4,22.67],[.52,22.57],[.84,23.06],[.16,22.9],[1.17,22.62],[.58,23.35],[-.01,22.41],[.97,22.64],[.35,22.62],[.7,23.08],[1.34,22.94],[.48,22.75],[.79,22.49],[.23,23.23],[1.63,22.38],[.63,22.78],[-.44,22.63],[1.03,22.44],[.4,22.93],[.86,22.39],[.09,22.74],[1.21,23.15],[.54,22.51],[.91,23.0],[.28,22.58],[.73,22.53],[-.09,23.15],[1.47,22.7],[.45,23.12],[.82,22.72],[.17,22.51],[1.07,22.75],[.61,22.87],[.33,22.88],[1.28,23.3],[.77,22.92],[-.29,22.95],[.96,22.48],[.5,22.64],[.14,22.97],[1.57,22.53],[.66,22.41],[.9,22.77],[.25,22.69],[1.14,22.56],[.42,22.44],[.8,23.2],[-.17,22.59],[1.37,22.54],[.57,22.8],[1.0,22.98],[.31,22.45],[.72,22.76],[.03,22.56],[1.24,22.72],[.47,22.87],[.85,22.6],[.2,22.62],[1.69,22.91],[.64,22.6],[-.55,22.44],[1.12,23.04],[.37,23.06],[.88,22.84],[.11,22.37],[1.43,22.6],[.53,22.83],[.95,22.68],[.29,22.73],[.69,22.7],[-.05,22.71],[1.32,22.79],[.44,22.58],[.78,22.66],[.22,23.0],[1.06,22.69],[.59,22.56],[.34,22.83],[1.5,22.97],[.75,22.88],[-.23,22.81],[.93,22.59],[.49,22.98],[.08,23.19],[1.19,22.48],[.62,22.67],[.87,22.47],[.26,22.5],[1.61,22.75],[.41,22.71],[.81,22.8],[-.12,22.56],[1.39,23.08],[.55,22.68],[1.01,22.58],[.32,22.69],[.7,22.97],[.15,22.67],[1.27,22.57],[.46,22.5],[.83,22.94],[-.38,22.71],[.98,22.85],[.38,22.53],[.67,22.88],[1.09,22.66],[.21,22.87],[1.46,22.85],[.52,22.62],[.89,22.71],[.04,22.83],[.6,22.76],[1.3,22.53],[.43,22.62],[.76,22.64],[-.03,22.52],[1.15,22.92],[.35,22.74],[.94,22.87],[.58,22.71],[.18,22.76],[1.54,22.74],[.71,22.5],[.27,22.81],[-.21,22.9],[1.03,22.88],[.48,22.69],[.84,22.63],[.1,22.6],[1.35,22.72],[.64,22.84],[.4,22.66],[.92,22.66],[1.74,23.05],[.56,22.93],[.24,22.75],[.79,22.56],[1.2,22.74],[-.3,22.5],[.45,22.79],[.68,22.59],[1.6,22.58],[.99,22.72],[.31,22.79],[.86,22.82],[.55,22.47],[.13,22.84],[1.43,22.4],[.74,22.67],[.36,22.9],[-.07,22.71],[1.11,22.73],[.62,22.95],[.95,22.79],[.19,22.42],[1.25,22.81],[.5,22.87],[.8,22.53],[.28,22.6],[.66,22.73],[1.66,22.97],[-.46,22.83],[1.05,22.95],[.42,22.76],[.9,22.62],
  [.36,23.42],[.81,23.29],[-.14,23.47],[1.17,23.33],[.52,23.15],[.97,23.46],[.18,23.36],[1.41,23.31],[.63,23.41],[-.39,23.26],[1.05,23.15],[.29,23.45],[.75,23.12],[1.56,23.43],[.44,23.29],[.09,23.43],[.88,23.08],[1.24,23.46],[.57,23.21],[-.24,23.33],[.69,23.45],[1.32,23.11],[.23,23.13],[.93,23.34],[.48,23.48],[1.63,23.24],[.04,23.28],[.78,23.39],[1.12,23.28],[.32,23.21],[-.52,23.15],[.6,23.38],[1.47,23.23],[.86,23.47],[.13,23.31],[1.01,23.1],[.4,23.34],[-.06,23.24],[1.28,23.42],[.66,23.27],[.2,23.46],[.95,23.22],[1.7,23.15],[.54,23.41],[1.19,23.25],[.27,23.34],[.83,23.43],[-.33,23.44],[1.37,23.36],[.72,23.2],[.46,23.09],[1.08,23.44],[.16,23.18],[1.52,23.32],[.61,23.3],[.9,23.14],[.34,23.48],[1.23,23.19],[-.18,23.12],[.77,23.47],[1.6,23.46],[.5,23.36],[.06,23.44],[1.14,23.47],[.38,23.16],[.99,23.29],[1.43,23.17],[.67,23.34],[-.45,23.46],[.25,23.26],[.85,23.24],[1.3,23.27],[.57,23.45],[1.67,23.36],[.11,23.07],[.79,23.33],[1.03,23.37],[.42,23.43],[1.21,23.39],[-.1,23.3]
];
// Faint disk stars redward of the turn-off.
const fieldStarsFaintest3 = [
  [.62,22.48],[.97,22.81],[1.23,23.27],[.78,22.17],[1.41,22.69],[.55,23.04],[1.09,22.37],[.88,23.38],[1.32,22.91],[.69,22.66],[1.56,23.19],[1.02,22.06],[.81,22.93],[1.18,22.64],[.59,22.83],[1.45,22.28],[.94,23.13],[.73,22.39],[1.27,22.74],[1.06,23.44],[.66,22.24],[1.5,22.79],[.85,22.57],[1.14,23.21],[.99,22.47],[.6,23.23],[1.37,23.03],[.76,22.86],[1.21,22.19],[.91,22.69],[1.62,22.34],[.52,22.74],[1.04,22.86],[.83,22.12],[1.3,22.58],[.7,23.03],[1.11,22.52],[.95,22.98],[1.47,23.35],[.64,22.58],[.87,22.35],[1.25,22.94],[1.0,22.63],[.57,22.35],[1.39,22.77],[.79,23.11],[1.16,22.41],[.92,22.54],[.68,22.96],[1.53,22.64],[1.07,23.06],[.82,22.65],[1.34,22.26],[.61,22.71],[.96,22.27],[1.2,23.12],[.74,22.51],[1.43,22.98],[.89,22.91],[1.13,22.77],[.56,22.56],[.99,23.27],[1.28,22.43],[.77,22.73],[1.6,22.96],[.65,23.14],[1.05,22.57],[.86,22.76],[1.36,23.41],[.71,22.32],[1.17,22.88],[.93,22.44],[1.49,22.52],[.6,22.91],[1.02,22.76],[.8,22.46],[1.24,22.51],[.67,22.77],[1.41,23.24],[.9,23.02],[1.1,22.29],[.53,22.97],[1.31,22.69],[.75,23.24],[.98,22.58],[1.19,22.97],[.84,22.24],[1.55,22.88],[.63,22.38],[1.08,22.91],[.92,22.73],[1.33,23.14],[.72,22.89],[1.15,22.69],[.58,22.64],[.97,22.38],[1.45,22.82],[.8,22.98],[1.22,22.39],[1.03,22.67],[.66,22.49],[.87,23.19],[1.38,22.47],[.74,22.62],[1.12,23.37],[.94,22.8],[1.58,22.47],[.61,22.81],[1.27,22.83],[.83,22.54],[1.06,22.23],[.7,22.72],[1.48,23.08],[.99,22.93],[.55,22.51],[1.2,22.59],[.86,22.88],[1.35,22.63],[.77,22.43],[1.09,22.81],[.64,23.07],[.95,22.52],[1.29,23.05],[.81,22.79],[1.63,23.3],[.69,22.55],[1.16,22.52],[.91,22.64],[1.42,22.9],[.57,22.89],[1.04,22.46],[.78,22.95],[1.25,22.46],[.96,22.69],[.62,22.63],[1.39,22.41],[.85,22.69],[1.13,22.6],[.73,22.98],[1.01,22.85],[1.52,22.71],[.66,22.89],[.89,22.5],[1.18,22.81],[.59,22.44],[1.32,22.99],[.8,22.62],[1.07,22.54],[.94,23.2],[1.45,22.66],[.71,22.84],[1.23,22.7],[.87,22.62],[.53,22.62],[1.1,22.98],[.97,22.45],[.76,22.7]
];

// Fiducial isochrone (main sequence, turn-off, subgiant and giant branch).
const isochroneColor = [0.803,0.723,0.673,0.633,0.599,0.564,0.534,0.509,0.489,0.464,0.439,0.424,0.374,0.314,0.264,0.239,0.234,0.249,0.289,0.339,0.409,0.489,0.574];
const isochroneMag   = [15.00,15.59,15.95,16.40,16.85,17.31,17.80,18.17,18.54,18.99,19.44,19.67,19.91,20.14,20.35,20.52,20.99,21.39,21.80,22.07,22.52,22.93,23.48];

// Horizontal branch locus.
const hbColor = [-0.638,-0.599,-0.559,-0.489,-0.424,-0.324,-0.239,-0.160,-0.060,0.075,0.209];
const hbMag   = [18.58,18.21,18.03,17.76,17.63,17.49,17.39,17.35,17.31,17.27,17.26];

// Member candidates.
const memberColor = [0.000,-0.075,0.489,0.224,0.299,0.264,0.274,0.140,0.145,0.274,0.384,0.409,0.384,0.314,0.334,0.324,0.564,0.574,0.125,0.155];
const memberMag   = [17.34,17.53,18.37,20.31,20.27,20.40,20.73,20.92,21.04,21.34,21.23,21.33,21.53,21.50,21.39,21.78,21.75,22.06,22.21,22.18];

// Axis ticks.
const xMajorTicks = [-0.5, 0.0, 0.5, 1.0, 1.5];
const xMinorTicks = [-0.7,-0.6,-0.4,-0.3,-0.2,-0.1,0.1,0.2,0.3,0.4,0.6,0.7,0.8,0.9,1.1,1.2,1.3,1.4,1.6,1.7];
const yMajorTicks = [16, 18, 20, 22];
const yMinorTicks = [15.5,16.5,17,17.5,18.5,19,19.5,20.5,21,21.5,22.5,23];

const X_MIN = -0.785, X_MAX = 1.755, Y_MIN = 15, Y_MAX = 23.5;
const AXIS_GREY = '#8c8c8c';
const LABEL_GREY = '#4d4d4d';
const TICK_FONT = 'DejaVu Sans Mono';

const pairs = (xs, ys) => xs.map((x, i) => [x, ys[i]]);
const fieldStars = [].concat(
  fieldStarsBright, fieldStarsBright2, fieldStarsMid, fieldStarsMid2,
  fieldStarsFaint, fieldStarsFaint2, fieldStarsFaint3,
  fieldStarsFaintest, fieldStarsFaintest2, fieldStarsFaintest3
);

function xAxisDef(position, ticks, len, withLabels) {
  return {
    type: 'value', position, min: X_MIN, max: X_MAX,
    axisLine: { show: true, onZero: false, lineStyle: { color: AXIS_GREY, width: 1.5 } },
    axisTick: { show: true, inside: true, length: len, customValues: ticks, lineStyle: { color: AXIS_GREY, width: 1.2 } },
    axisLabel: withLabels ? {
      show: true, customValues: ticks, margin: 14,
      fontFamily: TICK_FONT, fontSize: 20, color: LABEL_GREY,
      formatter: v => (v < 0 ? '\u2212' : '') + Math.abs(v).toFixed(1)
    } : { show: false },
    splitLine: { show: false }
  };
}

function yAxisDef(ticks, len, withLabels) {
  return {
    type: 'value', position: 'left', inverse: true, min: Y_MIN, max: Y_MAX,
    axisLine: { show: withLabels, onZero: false, lineStyle: { color: AXIS_GREY, width: 1.5 } },
    axisTick: { show: true, inside: true, length: len, customValues: ticks, lineStyle: { color: AXIS_GREY, width: 1.2 } },
    axisLabel: withLabels ? {
      show: true, customValues: ticks, margin: 8,
      fontFamily: TICK_FONT, fontSize: 20, color: LABEL_GREY
    } : { show: false },
    splitLine: { show: false }
  };
}

const chart = echarts.init(document.getElementById('chart'), null, { renderer: 'canvas' });

chart.setOption({
  backgroundColor: '#ffffff',
  animation: false,
  grid: { left: 87, top: 7, right: 0, bottom: 70, containLabel: false, outerBoundsMode: 'none' },
  xAxis: [
    xAxisDef('bottom', xMajorTicks, 9, true),
    xAxisDef('bottom', xMinorTicks, 5, false),
    xAxisDef('top', xMajorTicks, 9, false),
    xAxisDef('top', xMinorTicks, 5, false)
  ],
  yAxis: [
    yAxisDef(yMajorTicks, 9, true),
    yAxisDef(yMinorTicks, 5, false)
  ],
  series: [
    {
      name: 'field', type: 'scatter', data: fieldStars,
      symbol: 'circle', symbolSize: 2.2, silent: true, large: false,
      itemStyle: { color: '#1a1a1a', opacity: 0.8 }, z: 2
    },
    {
      name: 'isochrone', type: 'line', data: pairs(isochroneColor, isochroneMag),
      showSymbol: false, smooth: 0.5, silent: true,
      lineStyle: { color: '#2a2a2a', width: 2 }, z: 3
    },
    {
      name: 'hb', type: 'line', data: pairs(hbColor, hbMag),
      showSymbol: false, smooth: 0.6, silent: true,
      lineStyle: { color: '#333333', width: 2 }, z: 3
    },
    {
      name: 'members', type: 'scatter', data: pairs(memberColor, memberMag),
      symbol: 'circle', symbolSize: 19, silent: true,
      itemStyle: { color: '#f01848', shadowBlur: 3, shadowColor: 'rgba(240,24,72,0.6)' }, z: 4
    }
  ],
  graphic: [
    {
      type: 'text', left: 95, top: 22, z: 10,
      style: { text: 'CMD', font: '52px "Liberation Serif"', fill: '#000000' }
    },
    {
      type: 'text', x: 353, y: 688, z: 10,
      style: { text: '(g \u2212 r)\u2080', font: '21px "DejaVu Serif"', fill: LABEL_GREY, align: 'center', verticalAlign: 'middle' }
    },
    {
      type: 'text', x: 27, y: 318, rotation: Math.PI / 2, z: 10,
      style: { text: 'r\u2080', font: '21px "DejaVu Serif"', fill: LABEL_GREY, align: 'center', verticalAlign: 'middle' }
    }
  ]
});
</script>
</body>
</html>
